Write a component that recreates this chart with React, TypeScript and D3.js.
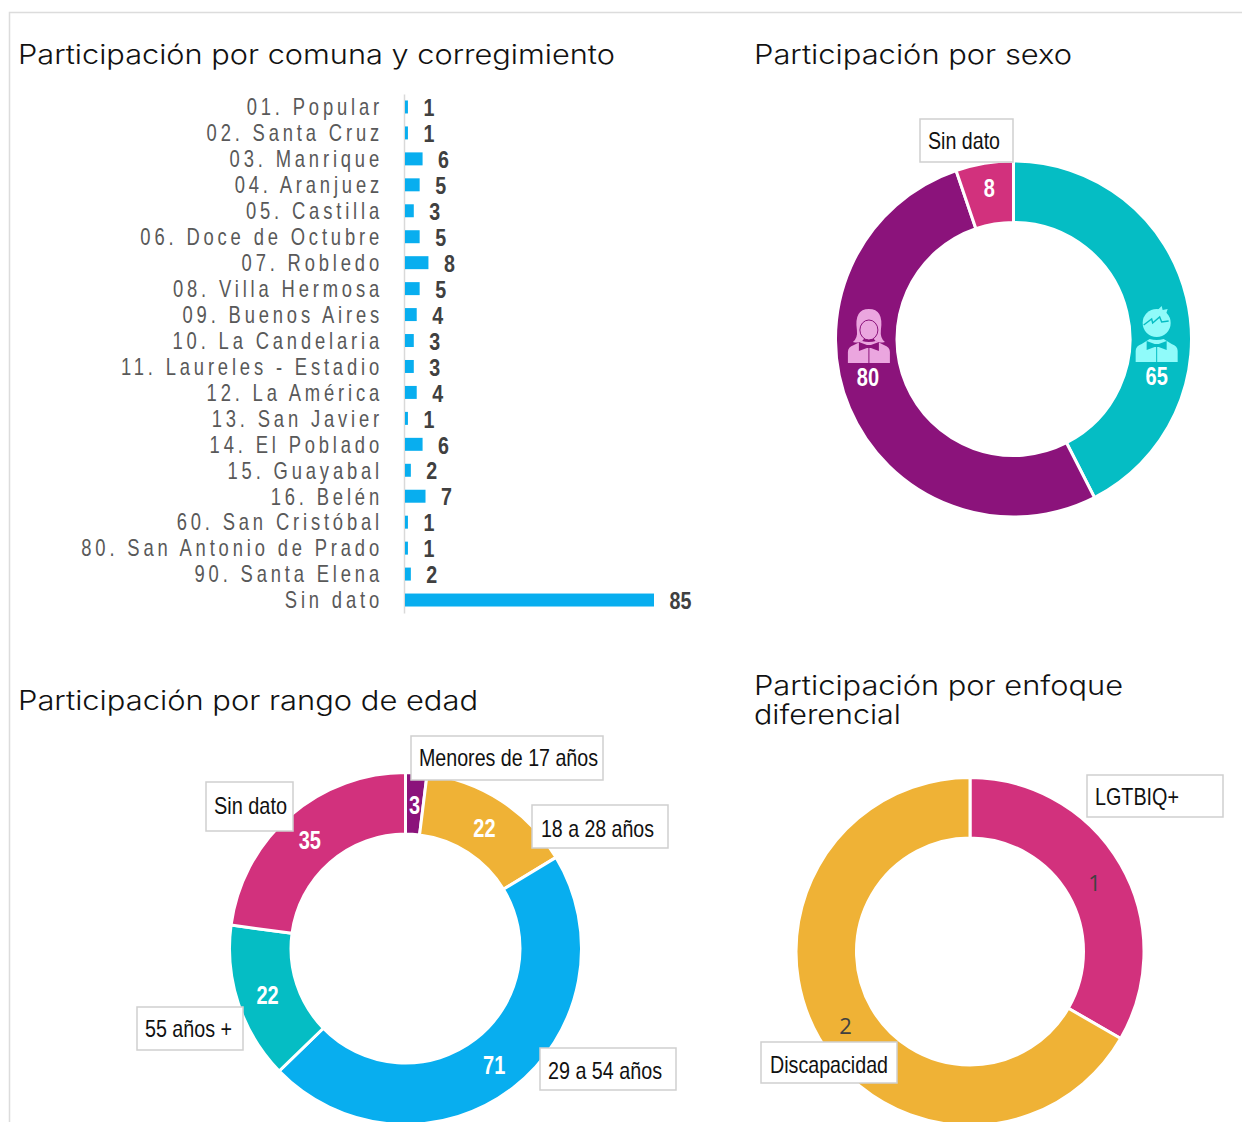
import React, { useEffect, useRef } from 'react';
import * as d3 from 'd3';

const comunas = [
  '01. Popular', '02. Santa Cruz', '03. Manrique', '04. Aranjuez', '05. Castilla',
  '06. Doce de Octubre', '07. Robledo', '08. Villa Hermosa', '09. Buenos Aires',
  '10. La Candelaria', '11. Laureles - Estadio', '12. La América', '13. San Javier',
  '14. El Poblado', '15. Guayabal', '16. Belén', '60. San Cristóbal',
  '80. San Antonio de Prado', '90. Santa Elena', 'Sin dato',
];
const comunaValues = [1, 1, 6, 5, 3, 5, 8, 5, 4, 3, 3, 4, 1, 6, 2, 7, 1, 1, 2, 85];

const sexoValues = [65, 80, 8];
const edadValues = [3, 22, 71, 22, 35];
const enfoqueValues = [1, 2];

const PURPLE = '#8b137b';
const PINK = '#d2317d';
const GOLD = '#efb236';
const BLUE = '#08aeef';
const TEAL = '#05bdc4';

const TITLE_FONT = 'Inter, sans-serif';
const SANS_FONT = '"Liberation Sans", sans-serif';

const titles = [
  { text: 'Participación por comuna y corregimiento', x: 18, y: 64, w: 597 },
  { text: 'Participación por sexo', x: 754, y: 64, w: 318 },
  { text: 'Participación por rango de edad', x: 18, y: 710, w: 460 },
  { text: 'Participación por enfoque', x: 754, y: 695, w: 369 },
  { text: 'diferencial', x: 754, y: 724, w: 147 },
];

const drawBox = (svg, text, x0, x1, y0, y1, textX, textW, dy = 8) => {
  svg.append('rect')
    .attr('x', x0).attr('y', y0)
    .attr('width', x1 - x0).attr('height', y1 - y0)
    .attr('fill', '#fff').attr('stroke', '#cfcfcf').attr('stroke-width', 1.5);
  svg.append('text')
    .attr('x', textX).attr('y', (y0 + y1) / 2 + dy)
    .attr('textLength', textW).attr('lengthAdjust', 'spacingAndGlyphs')
    .attr('font-family', SANS_FONT).attr('font-size', 24).attr('fill', '#111')
    .text(text);
};

const drawDonut = (svg, values, colors, cx, cy, outer, inner) => {
  const pie = d3.pie().sort(null)(values);
  const arc = d3.arc().innerRadius(inner - 1.5).outerRadius(outer + 1.5);
  svg.append('g')
    .attr('transform', `translate(${cx},${cy})`)
    .selectAll('path')
    .data(pie)
    .join('path')
    .attr('d', arc)
    .attr('fill', (d, i) => colors[i])
    .attr('stroke', '#fff')
    .attr('stroke-width', 3);
  return pie.map((d) => {
    const [x, y] = arc.centroid(d);
    return [cx + x, cy + y];
  });
};

// the bold labels in the original are squeezed, so scale them on x
const drawValue = (svg, value, x, y, fill = '#fff') => {
  svg.append('text')
    .attr('transform', `translate(${x},${y}) scale(0.8,1)`)
    .attr('text-anchor', 'middle').attr('dominant-baseline', 'central')
    .attr('font-family', SANS_FONT).attr('font-weight', 700)
    .attr('font-size', 25).attr('fill', fill)
    .text(value);
};

// little people on the sexo donut, origin at bottom centre of the figure
const BOW = 'M-10,-21 L-2,-18 H2 L10,-21 V-12 L2,-15 H-2 L-10,-12 Z';

const drawBoy = (svg, x, y) => {
  const g = svg.append('g').attr('transform', `translate(${x},${y})`);
  const light = '#90fbfa';
  g.append('path').attr('fill', light)
    .attr('d', 'M-21,0 V-11 Q-21,-16 -15,-18 L-7,-23 Q0,-21 7,-23 L15,-18 Q21,-16 21,-11 V0 Z');
  g.append('path').attr('fill', TEAL).attr('d', BOW);
  g.append('rect').attr('x', -0.5).attr('y', -16).attr('width', 1).attr('height', 16).attr('fill', TEAL);
  g.append('circle').attr('cx', 0).attr('cy', -39).attr('r', 14).attr('fill', light);
  g.append('path').attr('fill', light).attr('d', 'M1,-52 L5,-56 L6,-52 L11,-53 L9,-47 Z');
  g.append('path').attr('fill', 'none').attr('stroke', TEAL).attr('stroke-width', 1.4)
    .attr('d', 'M-13,-37 L-5,-43 L-4,-39 L3,-45 L5,-40 L12,-41');
};

const drawGirl = (svg, x, y) => {
  const g = svg.append('g').attr('transform', `translate(${x},${y})`);
  const light = '#eba6df';
  g.append('path').attr('fill', light)
    .attr('d', 'M-21,0 V-11 Q-21,-16 -15,-18 L-7,-22 Q0,-20 7,-22 L15,-18 Q21,-16 21,-11 V0 Z');
  g.append('path').attr('fill', light)
    .attr('d', 'M-16,-21 Q-11,-25 -12,-33 Q-15,-54 0,-54 Q15,-54 12,-33 Q11,-25 16,-21 Q8,-19 5,-24 H-5 Q-8,-19 -16,-21 Z');
  g.append('ellipse').attr('cx', 0).attr('cy', -33).attr('rx', 9).attr('ry', 10)
    .attr('fill', light).attr('stroke', PURPLE).attr('stroke-width', 1);
  g.append('path').attr('fill', PURPLE).attr('d', BOW);
  g.append('rect').attr('x', -0.5).attr('y', -16).attr('width', 1).attr('height', 16).attr('fill', PURPLE);
};

const App = () => {
  const svgRef = useRef();

  useEffect(() => {
    const svg = d3.select(svgRef.current);
    svg.selectAll('*').remove();

    // page frame
    svg.append('path')
      .attr('d', 'M9.5,1122 V12.5 H1242')
      .attr('fill', 'none').attr('stroke', '#dcdcdc').attr('stroke-width', 1.5);

    titles.forEach((t) => {
      svg.append('text')
        .attr('x', t.x).attr('y', t.y)
        .attr('textLength', t.w).attr('lengthAdjust', 'spacingAndGlyphs')
        .attr('font-family', TITLE_FONT).attr('font-weight', 300)
        .attr('font-size', 27).attr('fill', '#111')
        .text(t.text);
    });

    // comuna bars
    const x = d3.scaleLinear().domain([0, 85]).range([405, 654]);
    const y = d3.scaleBand().domain(comunas).range([94, 613])
      .paddingInner(0.5).paddingOuter(0.25);

    const axis = svg.append('g')
      .attr('transform', 'translate(404,0)')
      .call(d3.axisLeft(y).tickSize(0).tickPadding(0));
    axis.select('.domain').attr('stroke', '#d9d9d9').attr('stroke-width', 1.5);
    axis.selectAll('.tick text')
      .attr('x', null).attr('dy', null)
      .attr('dominant-baseline', 'central')
      .attr('transform', 'translate(-21,0) scale(0.8,1)')
      .attr('font-family', SANS_FONT).attr('font-size', 23)
      .attr('letter-spacing', 4.8).attr('fill', '#595959');

    svg.append('g').selectAll('rect')
      .data(comunaValues)
      .join('rect')
      .attr('x', x(0))
      .attr('y', (d, i) => y(comunas[i]))
      .attr('width', (d) => x(d) - x(0))
      .attr('height', y.bandwidth())
      .attr('fill', BLUE);

    svg.append('g').selectAll('text')
      .data(comunaValues)
      .join('text')
      .attr('transform', (d, i) => `translate(${x(d) + 15.5},${y(comunas[i]) + y.bandwidth() / 2 + 1}) scale(0.82,1)`)
      .attr('dominant-baseline', 'central')
      .attr('font-family', SANS_FONT).attr('font-weight', 700)
      .attr('font-size', 24).attr('fill', '#404040')
      .text((d) => d);

    // sexo
    const sexoPts = drawDonut(svg, sexoValues, [TEAL, PURPLE, PINK], 1013.5, 339, 176.5, 118);
    drawBoy(svg, sexoPts[0][0], 362);
    drawGirl(svg, sexoPts[1][0] - 9, 363);
    drawBox(svg, 'Sin dato', 920, 1013, 119, 162, 928, 72);
    drawValue(svg, sexoValues[0], sexoPts[0][0], 377);
    drawValue(svg, sexoValues[1], sexoPts[1][0] - 10, 378);
    drawValue(svg, sexoValues[2], sexoPts[2][0], sexoPts[2][1] - 5);

    // edad
    const edadPts = drawDonut(svg, edadValues, [PURPLE, GOLD, BLUE, TEAL, PINK], 405.5, 948.5, 174.5, 116);
    drawBox(svg, 'Menores de 17 años', 411, 603, 736, 780, 419, 179);
    drawBox(svg, '18 a 28 años', 532, 668, 805, 848, 541, 113, 10);
    drawBox(svg, '29 a 54 años', 540, 676, 1048, 1090, 548, 114, 10);
    drawBox(svg, '55 años +', 137, 243, 1007, 1050, 145, 87);
    drawBox(svg, 'Sin dato', 206, 293, 782, 831, 214, 73, 7);
    edadValues.forEach((v, i) => drawValue(svg, v, edadPts[i][0], edadPts[i][1] + 2));

    // enfoque
    const enfoquePts = drawDonut(svg, enfoqueValues, [PINK, GOLD], 970, 951.5, 172.5, 115);
    drawBox(svg, 'LGTBIQ+', 1087, 1223, 775, 817, 1095, 84, 9);
    drawBox(svg, 'Discapacidad', 761, 897, 1042, 1083, 770, 118, 10);
    enfoqueValues.forEach((v, i) => {
      svg.append('text')
        .attr('x', enfoquePts[i][0]).attr('y', enfoquePts[i][1] + 2)
        .attr('text-anchor', 'middle').attr('dominant-baseline', 'central')
        .attr('font-family', '"Open Sans", sans-serif')
        .attr('font-size', 22).attr('fill', '#404040')
        .text(v);
    });
  }, []);

  return (
    <svg
      ref={svgRef}
      width={1242}
      height={1122}
      style={{ position: 'absolute', left: 0, top: 0, background: '#fff' }}
    />
  );
};

export default App;
